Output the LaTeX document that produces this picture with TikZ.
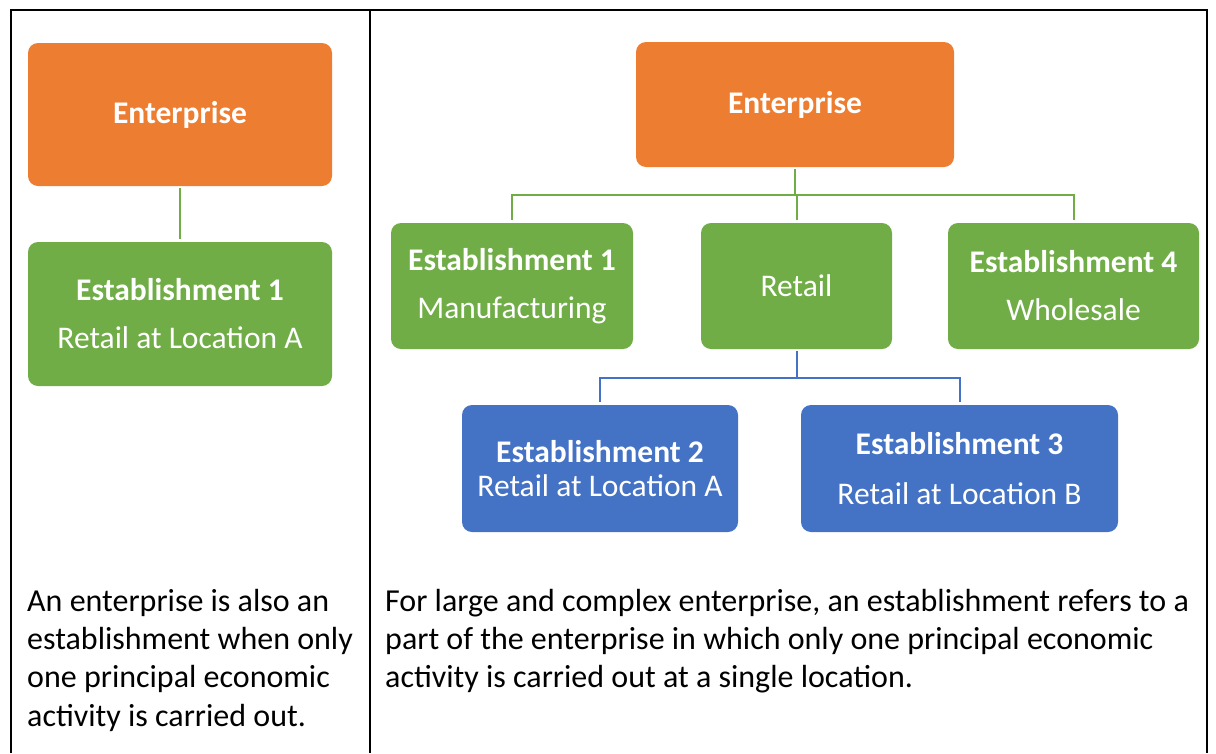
\documentclass[tikz,border=0pt]{standalone}
\usepackage{fontspec}
\setmainfont{Carlito}
\definecolor{orng}{HTML}{ED7D31}
\definecolor{grn}{HTML}{70AD47}
\definecolor{blu}{HTML}{4472C4}
\begin{document}
\begin{tikzpicture}[x=1pt,y=-1pt,
  box/.style={rounded corners=10pt, text=white, align=center, inner sep=0pt,
    font=\fontsize{31.5}{34}\selectfont},
  obox/.style={box, fill=orng},
  gbox/.style={box, fill=grn},
  bbox/.style={box, fill=blu},
  gline/.style={draw=grn, line width=2pt},
  bline/.style={draw=blu, line width=2pt},
  frame/.style={draw=black, line width=2pt},
  para/.style={anchor=north west, inner sep=0pt, align=left,
    font=\fontsize{32}{38.2}\selectfont}
]
\useasboundingbox (0,0) rectangle (1216,753);
% table frame
\coordinate (tl) at (11,10);
\coordinate (tm) at (370,10);
\coordinate (tr) at (1207,10);
\coordinate (bl) at (11,753);
\coordinate (bm) at (370,753);
\coordinate (br) at (1207,753);
\draw[frame] (bl) -- (tl) -- (tr) -- (br);
\draw[frame] (tm) -- (bm);

% left column
\node[obox, minimum width=304pt, minimum height=143pt] (entL) at (180,114.5) {\textbf{Enterprise}};
\node[gbox, minimum width=304pt, minimum height=144pt] (estL) at (180,314) {\textbf{Establishment 1}\\[14pt]Retail at Location A};
\draw[gline, shorten <=2pt, shorten >=3pt] (entL.south) -- (estL.north);

% right column
\node[obox, minimum width=318pt, minimum height=125pt] (entR) at (795,104.5) {\textbf{Enterprise}};
\node[gbox, minimum width=242pt, minimum height=126pt] (e1) at (512,286) {\textbf{Establishment 1}\\[14pt]Manufacturing};
\node[gbox, minimum width=191pt, minimum height=126pt] (ret) at (796.5,286) {Retail};
\node[gbox, minimum width=251pt, minimum height=126pt] (e4) at (1073.5,286) {\textbf{Establishment 4}\\[14pt]Wholesale};
\node[bbox, minimum width=276pt, minimum height=127pt] (e2) at (600,468.5) {\textbf{Establishment 2}\\[0pt]Retail at Location A};
\node[bbox, minimum width=317pt, minimum height=127pt] (e3) at (959.5,468.5) {\textbf{Establishment 3}\\[16pt]Retail at Location B};

\coordinate (gbus) at (795,195);
\coordinate (bbus) at (797,378);
\draw[gline, shorten <=2pt] (entR.south) -- (entR.south |- gbus);
\draw[gline, shorten <=3pt, shorten >=3pt] (e1.north) -- (e1.north |- gbus) -- (e4.north |- gbus) -- (e4.north);
\draw[gline, shorten >=3pt] (ret.north |- gbus) -- (ret.north);
\draw[bline, shorten <=2pt] (ret.south) -- (ret.south |- bbus);
\draw[bline, shorten <=3pt, shorten >=3pt] (e2.north) -- (e2.north |- bbus) -- (e3.north |- bbus) -- (e3.north);

% texts
\node[para] (txtL) at (27,589) {An enterprise is also an\\establishment when only\\one principal economic\\activity is carried out.};
\node[para] (txtR) at (385,589) {For large and complex enterprise, an establishment refers to a\\part of the enterprise in which only one principal economic\\activity is carried out at a single location.};
\end{tikzpicture}
\end{document}
